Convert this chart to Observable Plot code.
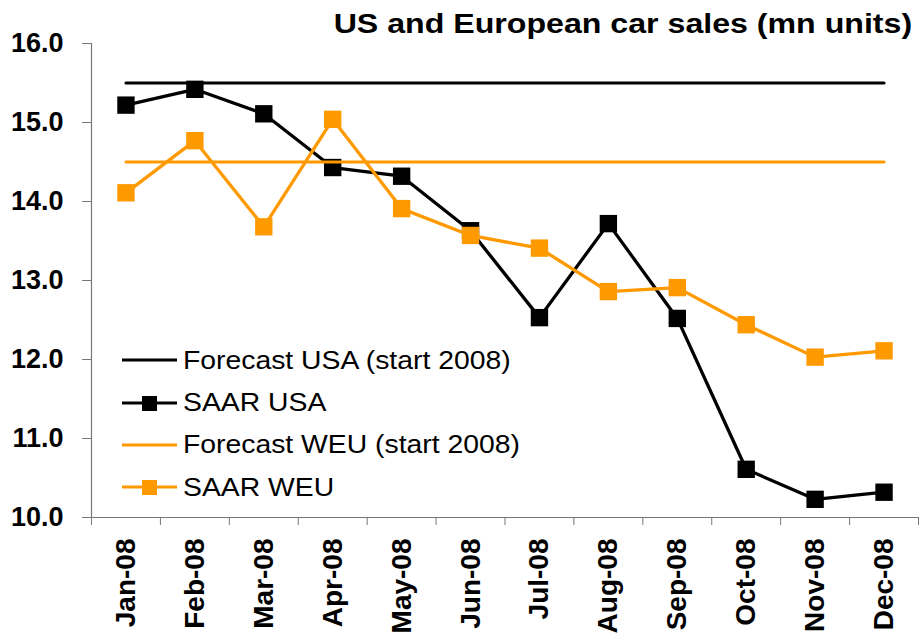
<!DOCTYPE html>
<html><head><meta charset="utf-8">
<script src="https://cdn.jsdelivr.net/npm/d3@7"></script>
<script src="https://cdn.jsdelivr.net/npm/@observablehq/plot@0.6"></script>
<style>
body{margin:0;background:#fff;font-family:"Liberation Sans",Arial,sans-serif}
#wrap{position:relative;width:919px;height:634px;overflow:hidden}
#chart{position:absolute;left:0;top:0}
#title{position:absolute;right:7px;top:11px;font-weight:bold;font-size:27px;line-height:1;white-space:nowrap;color:#000;transform:scaleX(1.19);transform-origin:right center}
#legend{position:absolute;left:122px;top:339px;font-size:26px;color:#000}
.row{display:flex;align-items:center;height:42.4px;white-space:nowrap}
.row svg{margin-right:6px;flex:none}
.row span{display:inline-block;transform:scaleX(1.09);transform-origin:left center}
</style></head><body>
<div id="wrap"><div id="chart"></div><div id="title">US and European car sales (mn units)</div><div id="legend"></div></div>
<script>
const months = ["Jan-08","Feb-08","Mar-08","Apr-08","May-08","Jun-08","Jul-08","Aug-08","Sep-08","Oct-08","Nov-08","Dec-08"];
const saarUSA = [15.22,15.42,15.11,14.43,14.32,13.63,12.53,13.72,12.52,10.61,10.23,10.32];
const saarWEU = [14.11,14.77,13.68,15.04,13.91,13.57,13.41,12.86,12.91,12.44,12.03,12.11];
const forecastUSA = 15.5;
const forecastWEU = 14.5;
const yTicks = [10,11,12,13,14,15,16];
const seriesNames = ["Forecast USA (start 2008)","SAAR USA","Forecast WEU (start 2008)","SAAR WEU"];
const BLACK = "#000000", ORANGE = "#FF9900";

const rows = months.map((m, i) => ({x: i + 0.5, m, usa: saarUSA[i], weu: saarWEU[i]}));
const fUSA = [{x: 0.5, y: forecastUSA}, {x: months.length - 0.5, y: forecastUSA}];
const fWEU = [{x: 0.5, y: forecastWEU}, {x: months.length - 0.5, y: forecastWEU}];
const bounds = d3.range(0, months.length + 1);

const chart = Plot.plot({
  width: 919, height: 634,
  marginLeft: 91, marginRight: 1, marginTop: 43, marginBottom: 117,
  style: {fontFamily: "'Liberation Sans', Arial, sans-serif", background: "#fff", color: "#000"},
  x: {type: "linear", domain: [0, months.length], axis: null},
  y: {domain: [10, 16], axis: null},
  marks: [
    Plot.ruleX([0], {y1: 10, y2: 16, stroke: "#777", strokeWidth: 1.2}),
    Plot.ruleY([10], {stroke: "#777", strokeWidth: 1.2}),
    Plot.axisY({ticks: yTicks, tickFormat: d => d.toFixed(1), tickSize: 9, tickPadding: 19, label: null,
      fontSize: 27, fontWeight: "bold", stroke: "#777", fill: "#000"}),
    Plot.axisX({ticks: bounds, tickFormat: () => "", tickSize: 8, stroke: "#777", label: null}),
    Plot.axisX({ticks: rows.map(d => d.x), tickFormat: v => months[Math.round(v - 0.5)], tickSize: 0, label: null,
      tickPadding: 21, tickRotate: -90, fontSize: 28, fontWeight: "bold", fill: "#000"}),
    Plot.line(fUSA, {x: "x", y: "y", stroke: BLACK, strokeWidth: 3}),
    Plot.line(rows, {x: "x", y: "usa", stroke: BLACK, strokeWidth: 3.3}),
    Plot.dot(rows, {x: "x", y: "usa", symbol: "square", r: 9.8, fill: BLACK, stroke: "none"}),
    Plot.line(fWEU, {x: "x", y: "y", stroke: ORANGE, strokeWidth: 3}),
    Plot.line(rows, {x: "x", y: "weu", stroke: ORANGE, strokeWidth: 3.3}),
    Plot.dot(rows, {x: "x", y: "weu", symbol: "square", r: 9.8, fill: ORANGE, stroke: "none"})
  ]
});
document.getElementById("chart").appendChild(chart);

const legendSpec = [
  {name: seriesNames[0], color: BLACK, marker: false},
  {name: seriesNames[1], color: BLACK, marker: true},
  {name: seriesNames[2], color: ORANGE, marker: false},
  {name: seriesNames[3], color: ORANGE, marker: true}
];
const legend = document.getElementById("legend");
for (const s of legendSpec) {
  const row = document.createElement("div");
  row.className = "row";
  row.innerHTML = `<svg width="55" height="20"><line x1="0" x2="55" y1="10" y2="10" stroke="${s.color}" stroke-width="3"/>${s.marker ? `<rect x="20" y="3" width="15" height="15" fill="${s.color}"/>` : ""}</svg><span>${s.name}</span>`;
  legend.appendChild(row);
}
</script>
</body></html>
